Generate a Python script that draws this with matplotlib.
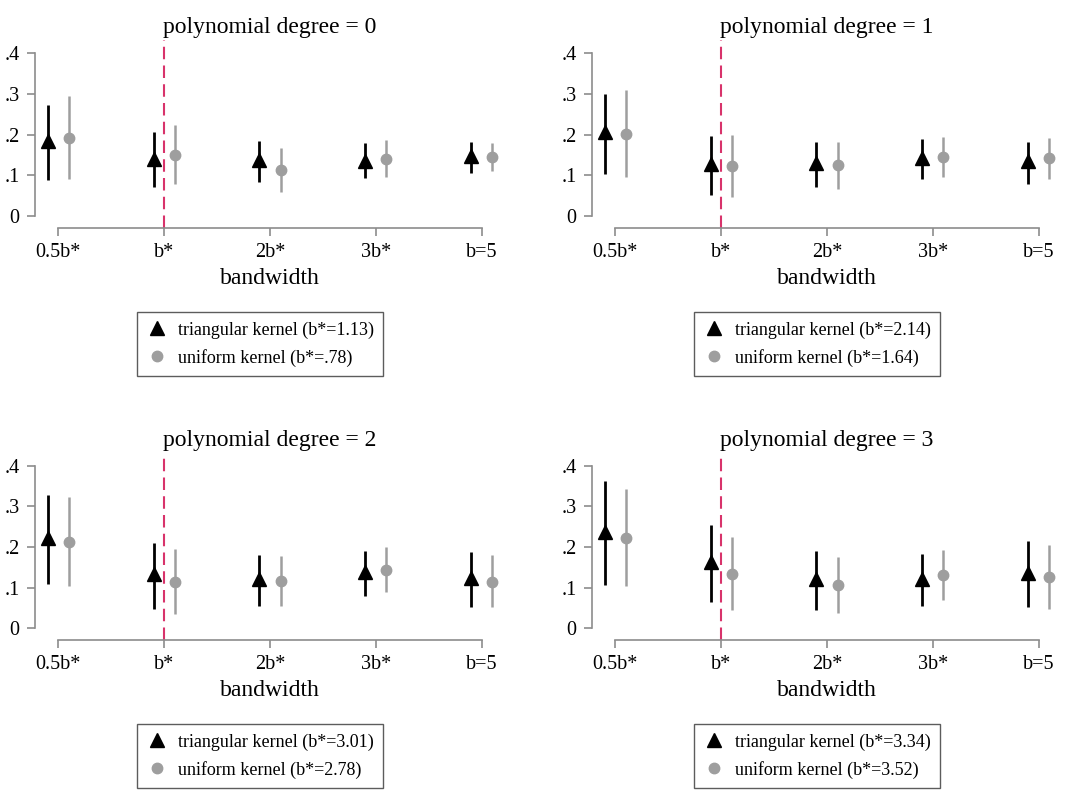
import matplotlib
matplotlib.use("Agg")
import matplotlib.pyplot as plt
import numpy as np

plt.rcParams['font.family'] = ['Liberation Serif', 'DejaVu Serif']

categories = ["0.5b*", "b*", "2b*", "3b*", "b=5"]
degrees = [0, 1, 2, 3]
tri_labels = ["triangular kernel (b*=1.13)", "triangular kernel (b*=2.14)",
              "triangular kernel (b*=3.01)", "triangular kernel (b*=3.34)"]
uni_labels = ["uniform kernel (b*=.78)", "uniform kernel (b*=1.64)",
              "uniform kernel (b*=2.78)", "uniform kernel (b*=3.52)"]

# triangular kernel: estimate, lower, upper
tri_est = [[0.185, 0.141, 0.137, 0.136, 0.148],
           [0.205, 0.127, 0.130, 0.143, 0.135],
           [0.222, 0.134, 0.122, 0.138, 0.124],
           [0.237, 0.164, 0.122, 0.122, 0.137]]
tri_lo = [[0.088, 0.072, 0.084, 0.093, 0.106],
          [0.102, 0.051, 0.070, 0.091, 0.079],
          [0.109, 0.048, 0.055, 0.078, 0.053],
          [0.106, 0.064, 0.045, 0.055, 0.053]]
tri_hi = [[0.273, 0.206, 0.183, 0.179, 0.182],
          [0.300, 0.196, 0.181, 0.189, 0.182],
          [0.328, 0.211, 0.180, 0.190, 0.188],
          [0.362, 0.255, 0.190, 0.184, 0.216]]
# uniform kernel
uni_est = [[0.192, 0.149, 0.113, 0.140, 0.145],
           [0.201, 0.122, 0.124, 0.144, 0.142],
           [0.213, 0.114, 0.115, 0.144, 0.114],
           [0.222, 0.133, 0.107, 0.131, 0.125]]
uni_lo = [[0.091, 0.078, 0.060, 0.095, 0.110],
          [0.096, 0.046, 0.067, 0.096, 0.092],
          [0.104, 0.035, 0.055, 0.088, 0.051],
          [0.103, 0.045, 0.038, 0.070, 0.048]]
uni_hi = [[0.294, 0.224, 0.167, 0.186, 0.180],
          [0.309, 0.199, 0.181, 0.194, 0.192],
          [0.323, 0.196, 0.177, 0.200, 0.180],
          [0.344, 0.224, 0.176, 0.193, 0.204]]

W, H = 1075, 790
fig = plt.figure(figsize=(W / 100, H / 100), dpi=100)

panel_px = [(35, 40, 228), (592, 40, 228), (35, 453, 640), (592, 453, 640)]
axw = 470
leg_y = [344, 344, 756, 756]

gray = "#9e9e9e"
spine_col = "#8c8c8c"

x = np.arange(1, 6)
for i, (px, top, bot) in enumerate(panel_px):
    ax = fig.add_axes([px / W, 1 - bot / H, axw / W, (bot - top) / H])
    te = np.array(tri_est[i]); tl = np.array(tri_lo[i]); th = np.array(tri_hi[i])
    ue = np.array(uni_est[i]); ul = np.array(uni_lo[i]); uh = np.array(uni_hi[i])
    ax.axvline(2, color="#d8336b", lw=1.5, dashes=(6, 3), zorder=1)
    ax.vlines(x - 0.1, tl, th, color="black", lw=2, zorder=2)
    ax.vlines(x + 0.1, ul, uh, color=gray, lw=1.8, zorder=2)
    ax.plot(x - 0.1, te, linestyle="none", marker="^", ms=10.5, color="black",
            zorder=3, label=tri_labels[i])
    ax.plot(x + 0.1, ue, linestyle="none", marker="o", ms=7.5, color=gray,
            zorder=3, label=uni_labels[i])
    ax.set_xlim(0.78, 5.22)
    ax.set_ylim(-0.0294, 0.432)
    ax.set_xticks(x)
    ax.set_xticklabels(categories)
    ax.set_yticks([0, 0.1, 0.2, 0.3, 0.4])
    ax.set_yticklabels(["0", ".1", ".2", ".3", ".4"])
    for s in ["top", "right"]:
        ax.spines[s].set_visible(False)
    ax.spines["left"].set_bounds(0, 0.4)
    ax.spines["bottom"].set_bounds(1, 5)
    for s in ["left", "bottom"]:
        ax.spines[s].set_color(spine_col)
        ax.spines[s].set_linewidth(1.2)
    ax.tick_params(colors=spine_col, labelcolor="black", labelsize=14.5,
                   length=6, width=1.2, pad=5)
    ax.set_xlabel("bandwidth", fontsize=17, labelpad=4)
    ax.set_title(f"polynomial degree = {degrees[i]}", fontsize=17, pad=5)
    ax.patch.set_visible(False)
    leg = fig.legend(handles=ax.get_lines()[1:], loc="center",
                     bbox_to_anchor=((px + axw / 2 - 10) / W, 1 - leg_y[i] / H),
                     fontsize=13, frameon=True, fancybox=False,
                     edgecolor="#333333", borderpad=0.5, handletextpad=0.6,
                     handlelength=1.2, labelspacing=0.55)
    leg.get_frame().set_linewidth(1.0)

fig.savefig("out.png", dpi=100)
